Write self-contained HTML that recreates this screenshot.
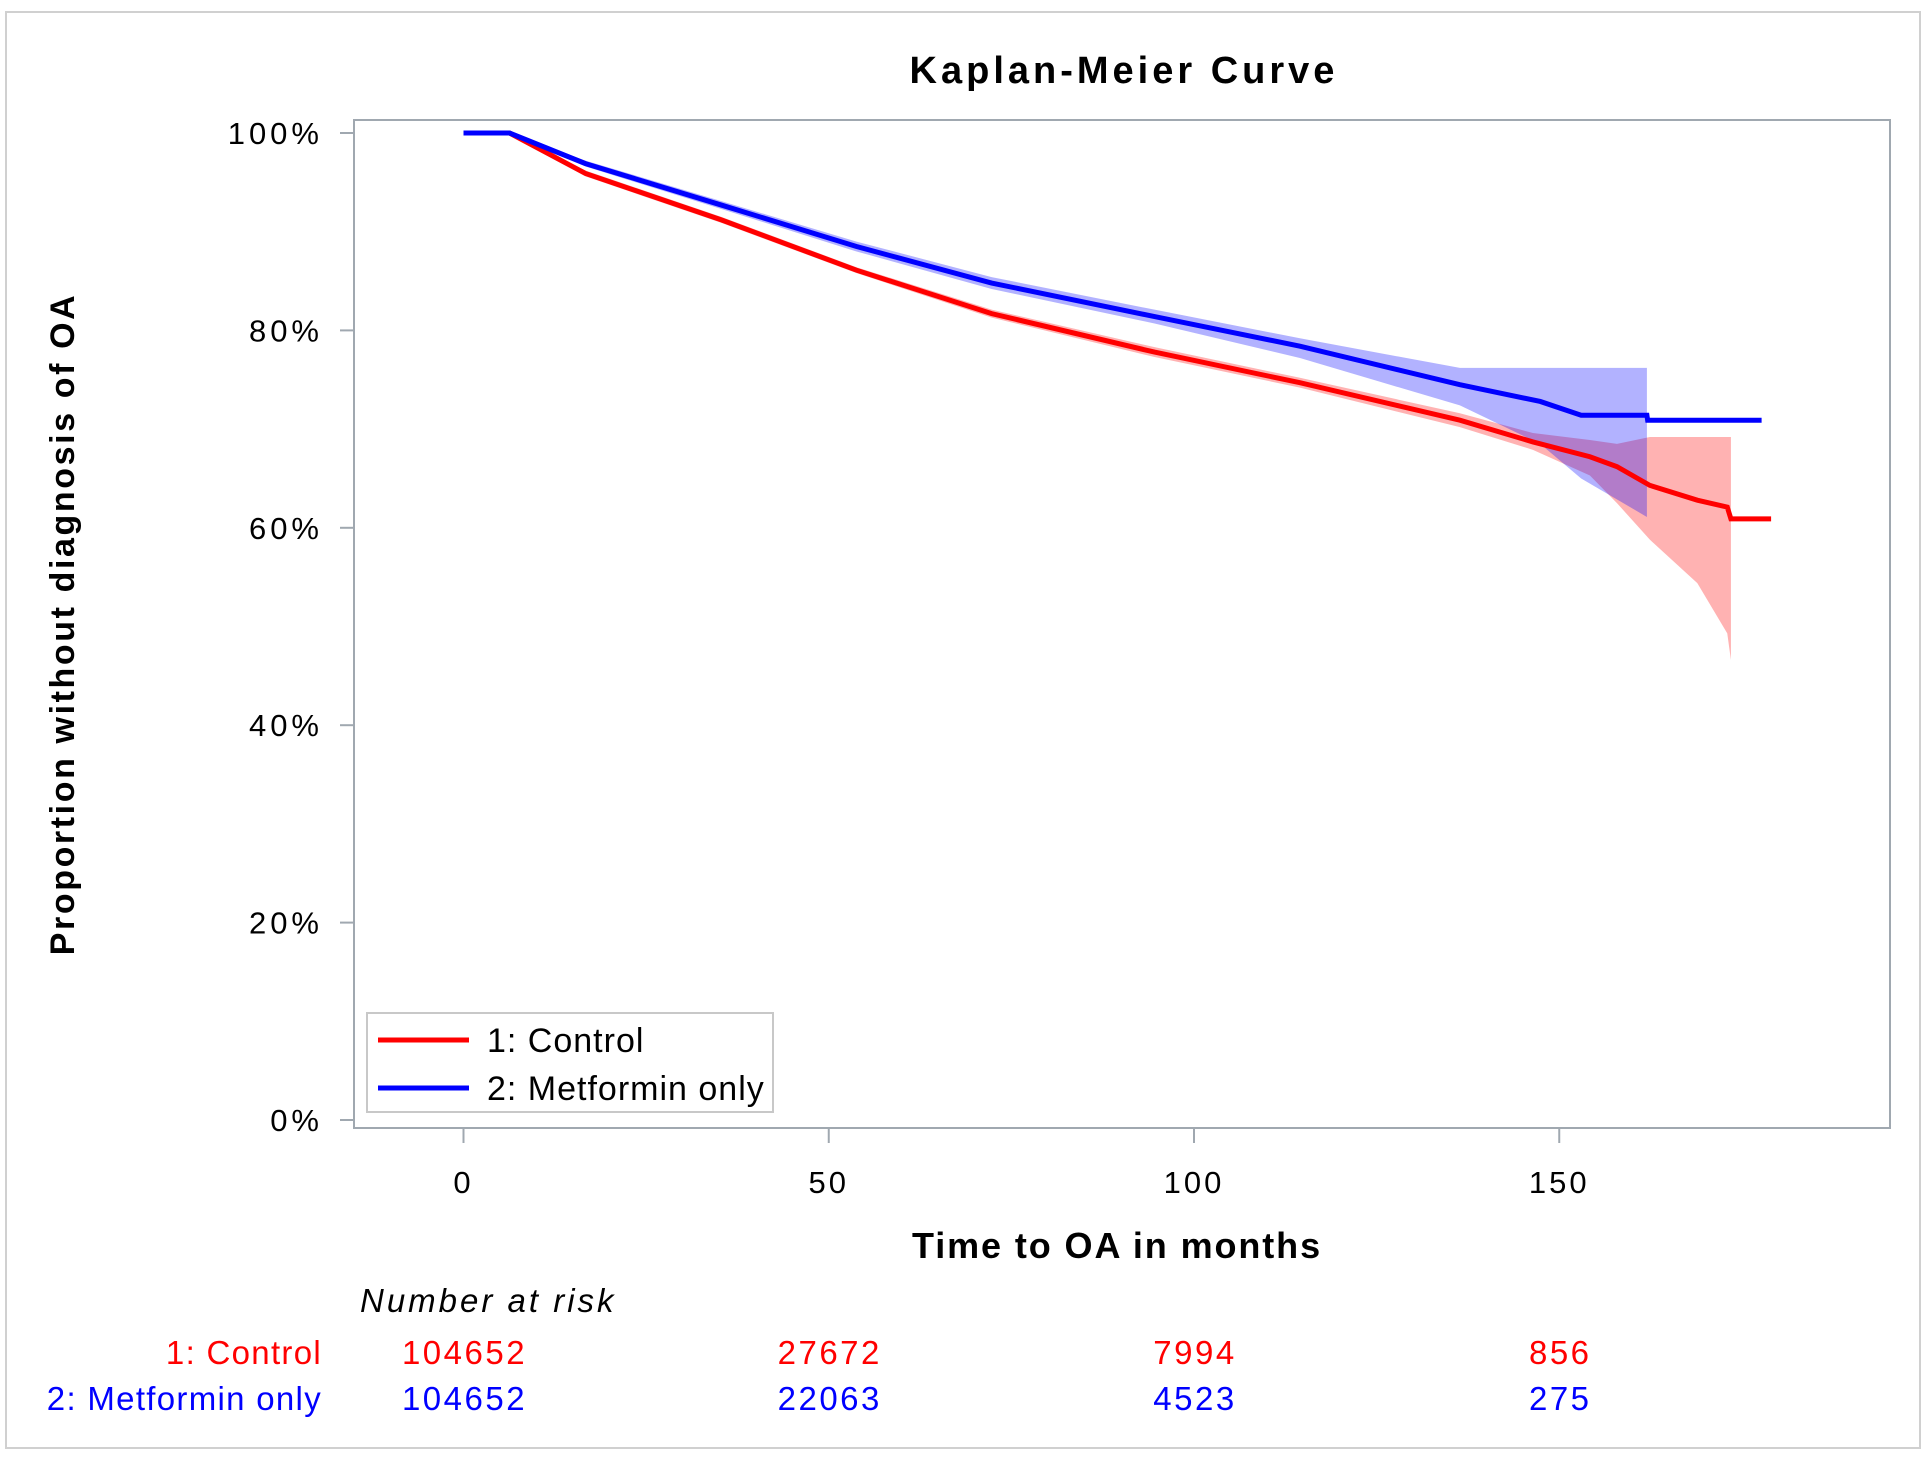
<!DOCTYPE html>
<html><head><meta charset="utf-8"><style>
html,body{margin:0;padding:0;background:#fff;}
svg{display:block;font-family:"Liberation Sans",Arial,sans-serif;}
</style></head><body>
<svg id="chart" width="1929" height="1458" viewBox="0 0 1929 1458" xmlns="http://www.w3.org/2000/svg">
<rect x="6" y="12" width="1914" height="1436" fill="#fff" stroke="#d0d0d0" stroke-width="2"/>
<text x="1124" y="83" font-size="38" font-weight="bold" text-anchor="middle" letter-spacing="4">Kaplan-Meier Curve</text>
<g id="bands"></g>
<g id="lines"></g>
<rect x="354" y="120" width="1536" height="1008" fill="none" stroke="#a0a8b0" stroke-width="2"/>
<g id="yaxis"></g>
<g id="xaxis"></g>
<text transform="translate(74,624) rotate(-90)" font-size="34" font-weight="bold" text-anchor="middle" letter-spacing="2.6">Proportion without diagnosis of OA</text>
<text x="1117" y="1258" font-size="36" font-weight="bold" text-anchor="middle" letter-spacing="1.9">Time to OA in months</text>
<g>
<rect x="367" y="1013" width="406" height="99" fill="#fff" stroke="#c8c8c8" stroke-width="2"/>
<line x1="378" y1="1040" x2="469" y2="1040" stroke="#ff0000" stroke-width="5"/>
<text x="487" y="1052" font-size="34" letter-spacing="1">1: Control</text>
<line x1="378" y1="1088" x2="469" y2="1088" stroke="#0000ff" stroke-width="5"/>
<text x="487" y="1100" font-size="34" letter-spacing="1">2: Metformin only</text>
</g>
<text x="360" y="1312" font-size="33" font-style="italic" letter-spacing="3">Number at risk</text>
<text x="322" y="1364" font-size="33" text-anchor="end" fill="#ff0000" letter-spacing="1.3">1: Control</text>
<text x="322" y="1410" font-size="33" text-anchor="end" fill="#0000ff" letter-spacing="1.3">2: Metformin only</text>
<g id="risk"></g>
</svg>
<script>
// ---- data ----
const ctrlT = [0, 6.3, 16.7, 35.3, 53.8, 72.3, 94.6, 114.5, 136.4, 146.4, 154.2, 157.9, 162.4, 168.9, 173, 173.5, 179];
const ctrlS = [100, 100, 95.9, 91.2, 86.1, 81.7, 77.8, 74.7, 70.9, 68.7, 67.2, 66.2, 64.3, 62.8, 62.1, 60.9, 60.9];
const metT = [0, 6.3, 16.7, 35.3, 53.8, 72.3, 94.6, 114.5, 136.4, 147.4, 153, 162, 162.1, 177.7];
const metS = [100, 100, 96.9, 92.7, 88.5, 84.8, 81.4, 78.4, 74.5, 72.8, 71.4, 71.4, 70.9, 70.9];
const ctrlBandT = [6.3, 16.7, 35.3, 53.8, 72.3, 94.6, 114.5, 136.4, 146.4, 154.2, 157.9, 162.4, 168.9, 173, 173.5];
const ctrlBandLo = [100, 95.6, 90.9, 85.8, 81.3, 77.3, 74.2, 70.2, 67.9, 65.3, 62.5, 58.8, 54.4, 49.3, 46.6];
const ctrlBandHi = [100, 96.2, 91.5, 86.4, 82.1, 78.3, 75.2, 71.6, 69.6, 68.9, 68.5, 69.2, 69.2, 69.2, 69.2];
const metBandT = [6.3, 16.7, 35.3, 53.8, 72.3, 94.6, 114.5, 136.4, 147.4, 153, 162];
const metBandLo = [100, 96.6, 92.3, 88.0, 84.2, 80.7, 77.2, 72.4, 68.5, 65.0, 61.1];
const metBandHi = [100, 97.2, 93.1, 89.0, 85.4, 82.1, 79.2, 76.2, 76.2, 76.2, 76.2];
const xTicks = [0, 50, 100, 150];
const yTicks = [0, 20, 40, 60, 80, 100];
const riskCtrl = ["104652", "27672", "7994", "856"];
const riskMet = ["104652", "22063", "4523", "275"];

const NS = "http://www.w3.org/2000/svg";
function xs(t){ return 463.5 + t * 7.305; }
function ys(p){ return 1120 - p * 9.87; }
function mk(tag, attrs, parent){ const e=document.createElementNS(NS,tag); for(const k in attrs) e.setAttribute(k,attrs[k]); parent.appendChild(e); return e; }

const bands=document.getElementById('bands');
function band(T,Lo,Hi,color,name){
  let pts=[];
  for(let i=0;i<T.length;i++) pts.push(xs(T[i])+','+ys(Hi[i]));
  for(let i=T.length-1;i>=0;i--) pts.push(xs(T[i])+','+ys(Lo[i]));
  const p=mk('polygon',{points:pts.join(' '),fill:color},bands);
  
  
}
band(ctrlBandT,ctrlBandLo,ctrlBandHi,'rgba(255,0,0,0.3)','control-confidence-band');
band(metBandT,metBandLo,metBandHi,'rgba(0,0,255,0.3)','metformin-confidence-band');

const lines=document.getElementById('lines');
function curve(T,S,color,name){
  const pts=T.map((t,i)=>xs(t)+','+ys(S[i])).join(' ');
  const l=mk('polyline',{points:pts,fill:'none',stroke:color,'stroke-width':5,'stroke-linejoin':'miter'},lines);
  
  
}
curve(ctrlT,ctrlS,'#ff0000','control-curve');
curve(metT,metS,'#0000ff','metformin-curve');

const ya=document.getElementById('yaxis');
yTicks.forEach(v=>{
  const y=ys(v);
  const tk=mk('line',{x1:340,x2:354,y1:y,y2:y,stroke:'#a0a8b0','stroke-width':2},ya);
  
  
  const tx=mk('text',{x:323,y:y+11,'font-size':31,'text-anchor':'end','letter-spacing':4},ya);
  tx.textContent=v+'%';
  
  
});
const xa=document.getElementById('xaxis');
xTicks.forEach(v=>{
  const x=xs(v);
  const tk=mk('line',{x1:x,x2:x,y1:1128,y2:1143,stroke:'#a0a8b0','stroke-width':2},xa);
  
  
  const tx=mk('text',{x:x,y:1193,'font-size':31,'text-anchor':'middle','letter-spacing':3},xa);
  tx.textContent=v;
  
  
});
const rk=document.getElementById('risk');
xTicks.forEach((v,i)=>{
  const a=mk('text',{x:xs(v)+1,y:1364,'font-size':33,'text-anchor':'middle',fill:'#ff0000','letter-spacing':2.5},rk);
  a.textContent=riskCtrl[i];
  
  
  const b=mk('text',{x:xs(v)+1,y:1410,'font-size':33,'text-anchor':'middle',fill:'#0000ff','letter-spacing':2.5},rk);
  b.textContent=riskMet[i];
  
  
});
</script>
</body></html>
